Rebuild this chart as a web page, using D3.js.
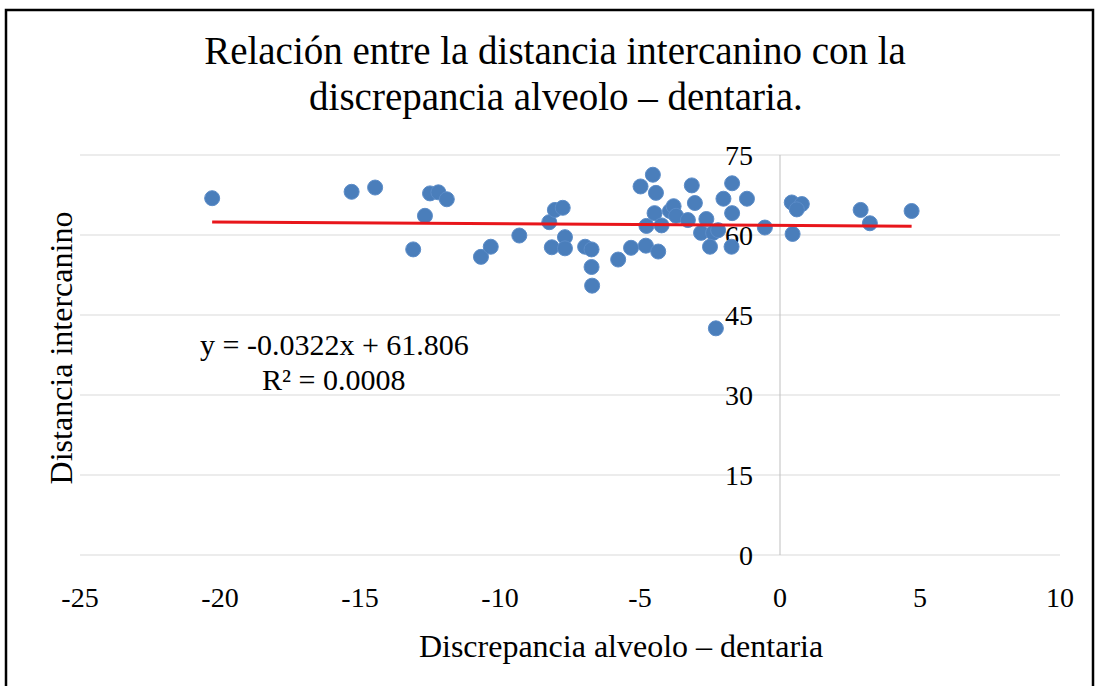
<!DOCTYPE html>
<html>
<head>
<meta charset="utf-8">
<script src="https://cdn.jsdelivr.net/npm/d3@7"></script>
<style>
  body { margin: 0; background: #fff; }
  text { font-family: "Liberation Serif", "DejaVu Serif", serif; fill: #000; }
</style>
</head>
<body>
<script>
var w = 1099
var h = 686

// discrepancia alveolo - dentaria (x) and distancia intercanino (y)
var discrepancia = [
  -20.28, -15.30, -14.46, -13.10, -12.68, -12.50, -12.20, -11.90, -10.68, -10.33,
  -9.31, -8.24, -8.04, -7.76, -8.15, -7.68, -7.68, -6.96, -6.73, -6.73,
  -6.71, -5.78, -5.32, -4.79, -4.98, -4.54, -4.43, -4.48, -4.77, -4.23,
  -4.35, -3.93, -3.80, -3.71, -3.29, -3.15, -3.04, -2.82, -2.63, -2.39,
  -2.50, -2.29, -2.02, -1.71, -1.71, -1.73, -1.18, -0.54, 0.42, 0.78,
  0.60, 0.45, 2.88, 3.21, 4.70, -2.21
]
var intercanino = [
  66.9, 68.1, 68.9, 57.3, 63.6, 67.8, 68.0, 66.7, 55.9, 57.8,
  59.9, 62.4, 64.7, 65.1, 57.7, 59.6, 57.5, 57.8, 57.3, 54.0,
  50.5, 55.4, 57.6, 58.0, 69.1, 71.3, 67.9, 64.1, 61.7, 61.8,
  56.9, 64.5, 65.4, 63.6, 62.8, 69.3, 66.0, 60.4, 63.0, 60.4,
  57.8, 42.5, 66.8, 69.7, 64.1, 57.8, 66.8, 61.4, 66.1, 65.8,
  64.8, 60.2, 64.7, 62.2, 64.5, 60.9
]
var xTicks = [-25, -20, -15, -10, -5, 0, 5, 10]
var yTicks = [0, 15, 30, 45, 60, 75]
var slope = -0.0322
var intercept = 61.806
var r2 = 0.0008

var svg = d3.select("body")
  .append("svg")
  .attr("width", w)
  .attr("height", h)

// frame
svg.append("rect")
  .attr("x", 6).attr("y", 10)
  .attr("width", 1087).attr("height", 700)
  .attr("fill", "none")
  .attr("stroke", "#000")
  .attr("stroke-width", 2.5)

var x = d3.scaleLinear().domain([-25, 10]).range([80, 1060])
var y = d3.scaleLinear().domain([0, 75]).range([555, 155])

// gridlines
svg.append("g")
  .selectAll("line")
  .data(yTicks)
  .enter().append("line")
  .attr("x1", x(-25)).attr("x2", x(10))
  .attr("y1", d => y(d)).attr("y2", d => y(d))
  .attr("stroke", "#d9d9d9")
  .attr("stroke-width", 1)

// vertical axis at x = 0
svg.append("line")
  .attr("x1", x(0)).attr("x2", x(0))
  .attr("y1", y(75)).attr("y2", y(0))
  .attr("stroke", "#bfbfbf")
  .attr("stroke-width", 1)

// y tick labels next to the vertical axis
svg.append("g")
  .selectAll("text")
  .data(yTicks)
  .enter().append("text")
  .attr("x", x(0) - 27)
  .attr("y", d => y(d) + 10)
  .attr("text-anchor", "end")
  .attr("font-size", 28)
  .text(d => d)

// x tick labels
svg.append("g")
  .selectAll("text")
  .data(xTicks)
  .enter().append("text")
  .attr("x", d => x(d))
  .attr("y", 607)
  .attr("text-anchor", "middle")
  .attr("font-size", 28)
  .text(d => d)

// points
svg.append("g")
  .selectAll("circle")
  .data(discrepancia.map((d, i) => [d, intercanino[i]]))
  .enter().append("circle")
  .attr("cx", d => x(d[0]))
  .attr("cy", d => y(d[1]))
  .attr("r", 7.5)
  .attr("fill", "#4a7ebb")
  .attr("stroke", "#5b8cc8")
  .attr("stroke-width", 1)

// trendline
var xmin = d3.min(discrepancia), xmax = d3.max(discrepancia)
svg.append("line")
  .attr("x1", x(xmin)).attr("y1", y(slope * xmin + intercept))
  .attr("x2", x(xmax)).attr("y2", y(slope * xmax + intercept))
  .attr("stroke", "#e8161b")
  .attr("stroke-width", 3)

// equation
svg.append("text")
  .attr("x", 200).attr("y", 355)
  .attr("font-size", 30)
  .text("y = " + slope + "x + " + intercept)
svg.append("text")
  .attr("x", 262).attr("y", 390)
  .attr("font-size", 30)
  .text("R² = " + r2)

// title
svg.append("text")
  .attr("x", 555).attr("y", 64)
  .attr("text-anchor", "middle")
  .attr("font-size", 39)
  .text("Relación entre la distancia intercanino con la")
svg.append("text")
  .attr("x", 556).attr("y", 110)
  .attr("text-anchor", "middle")
  .attr("font-size", 39)
  .text("discrepancia alveolo – dentaria.")

// axis titles
svg.append("text")
  .attr("x", 621).attr("y", 657)
  .attr("text-anchor", "middle")
  .attr("font-size", 32)
  .text("Discrepancia alveolo – dentaria")
svg.append("text")
  .attr("transform", "translate(72,348) rotate(-90)")
  .attr("text-anchor", "middle")
  .attr("font-size", 32)
  .text("Distancia intercanino")
</script>
</body>
</html>
